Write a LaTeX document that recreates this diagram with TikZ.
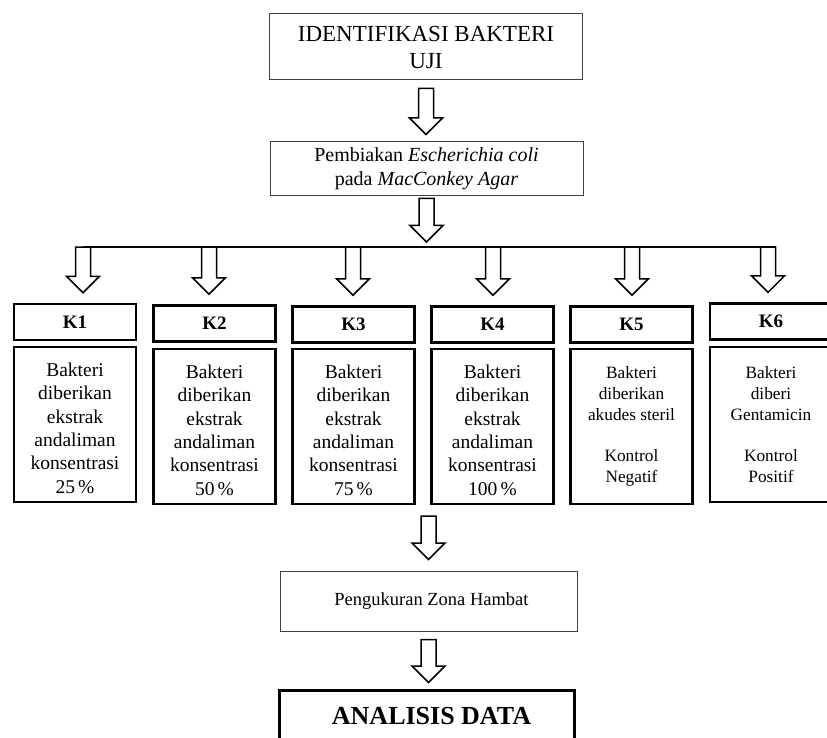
\documentclass[tikz,border=0pt]{standalone}
\usepackage{fontspec}
\setmainfont{Liberation Serif}
\usetikzlibrary{calc,shadows}
\newcommand{\toppad}{\rule{0pt}{21pt}}
\begin{document}
\begin{tikzpicture}[x=1pt,y=-1pt,
  thinbox/.style={draw=black!75, line width=1pt, align=center, inner sep=0pt, fill=white},
  kbox/.style={draw=black, line width=2.4pt, align=center, inner sep=0pt, fill=white,
    minimum width=122pt,
    drop shadow={shadow xshift=1.2pt, shadow yshift=-1.2pt, opacity=0.3}},
  khead/.style={kbox, minimum height=36pt, font=\fontsize{19}{22}\selectfont\bfseries},
  kbody/.style={kbox, minimum height=155pt, font=\fontsize{19.5}{23.3}\selectfont},
  kbodys/.style={kbody, font=\fontsize{17.3}{20.8}\selectfont},
  blockarrow/.style={draw=black, line width=1.5pt, fill=white, line join=miter,
    to path={let \p1=(\tikztostart), \p2=(\tikztotarget) in
      (\x1-7.5pt,\y1) -- (\x1+7.5pt,\y1) -- (\x1+7.5pt,\y2+16.5pt) -- (\x1+16.5pt,\y2+16.5pt)
      -- (\x1,\y2) -- (\x1-16.5pt,\y2+16.5pt) -- (\x1-7.5pt,\y2+16.5pt) -- cycle}},
  hline/.style={draw=black, line width=1.5pt}
]
\useasboundingbox (0,0) rectangle (827,738);
\clip (0,0) rectangle (827,738);

% top boxes
\node[thinbox, minimum width=313pt, minimum height=66pt,
  font=\fontsize{23}{27}\selectfont] (t1) at (426,47) {IDENTIFIKASI BAKTERI\\UJI};
\node[thinbox, minimum width=313pt, minimum height=54pt,
  font=\fontsize{20}{24}\selectfont] (t2) at (426.5,169)
  {Pembiakan \textit{Escherichia coli}\\pada \textit{MacConkey Agar}};

% K headers
\node[khead] (k1h) at (75,322) {K1};
\node[khead] (k2h) at (214.5,323.5) {K2};
\node[khead] (k3h) at (353.5,324.5) {K3};
\node[khead] (k4h) at (492.5,324.5) {K4};
\node[khead] (k5h) at (631.5,324.5) {K5};
\node[khead] (k6h) at (771,321.5) {K6};

% K bodies
\node[kbody] (k1b) at (75,424.5) {\toppad Bakteri\\diberikan\\ekstrak\\andaliman\\konsentrasi\\25\,\%};
\node[kbody] (k2b) at (214.5,426.5) {\toppad Bakteri\\diberikan\\ekstrak\\andaliman\\konsentrasi\\50\,\%};
\node[kbody] (k3b) at (353.5,426.5) {\toppad Bakteri\\diberikan\\ekstrak\\andaliman\\konsentrasi\\75\,\%};
\node[kbody] (k4b) at (492.5,426.5) {\toppad Bakteri\\diberikan\\ekstrak\\andaliman\\konsentrasi\\100\,\%};
\node[kbodys] (k5b) at (631.5,426.5) {Bakteri\\diberikan\\akudes steril\\[20.8pt]Kontrol\\Negatif};
\node[kbodys] (k6b) at (771,424.5) {Bakteri\\diberi\\Gentamicin\\[20.8pt]Kontrol\\Positif};

% lower boxes
\node[thinbox, minimum width=297pt, minimum height=60pt,
  font=\fontsize{18.5}{22}\selectfont] (p) at (428.5,601) {\hspace*{6pt}Pengukuran Zona Hambat};
\node[draw=black, line width=3pt, fill=white, minimum width=295pt, minimum height=52pt,
  inner sep=0pt, font=\fontsize{26}{30}\selectfont\bfseries] (an) at (426.5,716) {\hspace*{10pt}ANALISIS DATA};

% distribution line
\coordinate (mid) at (426,247);
\coordinate (a1) at (83,247);
\coordinate (a2) at (209,247);
\coordinate (a3) at (353,247);
\coordinate (a4) at (493,247);
\coordinate (a5) at (632,247);
\coordinate (a6) at (768,247);
\draw[hline] (a1) -- ($(a6)+(7.5,0)$);

% block arrows
\draw[blockarrow] ($(t1.south)+(0,8)$) to ($(t2.north)+(0,-7)$);
\draw[blockarrow] ($(t2.south)+(0,2)$) to ($(mid)+(0,-5)$);
\draw[blockarrow] (a1) to ($(a1 |- k1h.north)+(0,-10)$);
\draw[blockarrow] (a2) to ($(a2 |- k2h.north)+(0,-10)$);
\draw[blockarrow] (a3) to ($(a3 |- k3h.north)+(0,-10)$);
\draw[blockarrow] (a4) to ($(a4 |- k4h.north)+(0,-10)$);
\draw[blockarrow] (a5) to ($(a5 |- k5h.north)+(0,-10)$);
\draw[blockarrow] (a6) to ($(a6 |- k6h.north)+(0,-10)$);
\draw[blockarrow] ($(p.north |- k3b.south)+(0,11)$) to ($(p.north)+(0,-11)$);
\draw[blockarrow] ($(p.south)+(0,8)$) to ($(an.north)+(0,-6)$);
\end{tikzpicture}
\end{document}
